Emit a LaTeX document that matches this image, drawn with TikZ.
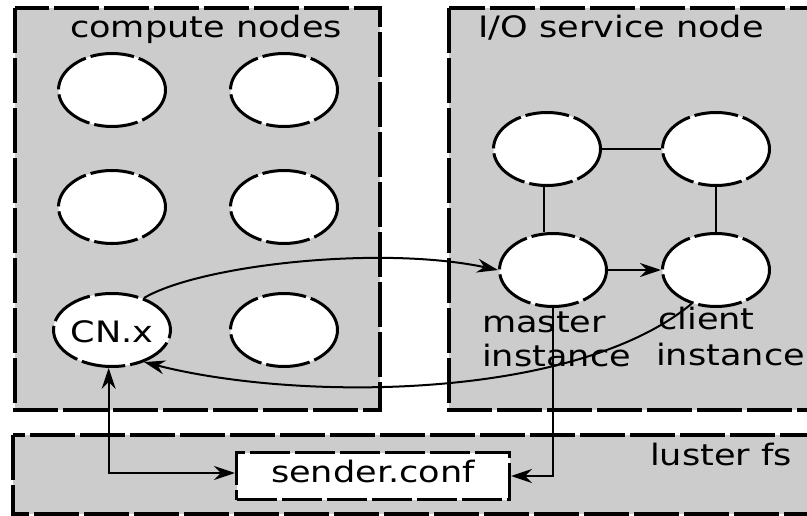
\documentclass[tikz,border=0pt]{standalone}
\usepackage{fontspec}
\setmainfont[FakeStretch=1.19]{DejaVu Sans}
\usetikzlibrary{shapes.geometric,arrows.meta,calc}
\newcommand{\diagfont}{\fontsize{29.5pt}{35pt}\selectfont}

\begin{document}
\begin{tikzpicture}[x=1pt,y=-1pt,
  container/.style={fill=black!20, draw=black, line width=3.4pt, dash pattern=on 45pt off 5pt},
  proc/.style={ellipse, draw=black, fill=white, line width=3pt, dash pattern=on 44pt off 5pt,
    minimum width=107pt, minimum height=73pt, inner sep=0pt, font=\diagfont,
    text height=24pt, text depth=0pt},
  filebox/.style={rectangle, draw=black, fill=white, line width=3pt, dash pattern=on 40pt off 5pt,
    minimum width=273pt, minimum height=47pt, text height=18pt, text depth=6pt,
    inner sep=0pt, font=\diagfont},
  lbl/.style={font=\diagfont, inner sep=0pt},
  link/.style={line width=2pt},
  flow/.style={line width=2pt, -{Stealth[length=21pt,width=14pt,inset=7pt]}},
  biflow/.style={line width=2pt, {Stealth[length=21pt,width=14pt,inset=7pt]}-{Stealth[length=21pt,width=14pt,inset=7pt]}},
]
\useasboundingbox (0,0) rectangle (807,516);
\clip (0,0) rectangle (807,516);

% containers
\draw[container] (15,8) rectangle (380,410);
\draw[container] (449,8) rectangle (840,410);
\draw[container] (13,435) rectangle (840,514);

% container titles
\node[lbl, anchor=base] (tcompute) at (206,38) {compute nodes};
\node[lbl, anchor=base] (tio) at (621,38) {I/O service node};
\node[lbl, anchor=base west] (tfs) at (650,465) {luster fs};

% compute nodes
\node[proc] (c1) at (112,90) {};
\node[proc] (c2) at (284,90) {};
\node[proc] (c3) at (112,207) {};
\node[proc] (c4) at (284,207) {};
\node[proc] (cnx) at (112,330) {CN.x};
\node[proc] (c6) at (284,330) {};

% I/O service instances
\node[proc] (io1) at (547,149) {};
\node[proc] (io2) at (716,149) {};
\node[proc] (master) at (553,270) {};
\node[proc] (client) at (716,270) {};

% instance labels
\node[lbl, anchor=base west] (lm1) at (482,332) {master};
\node[lbl, anchor=base west] (lm2) at (482,366) {instance};
\node[lbl, anchor=base west] (lc1) at (658,330) {client};
\node[lbl, anchor=base west] (lc2) at (656,365) {instance};

% configuration file
\node[filebox] (sender) at (373,476) {sender.conf};

% links between instances
\draw[link] (io1.east) -- (io2.west);
\draw[link] (io1.265) -- (io1.265 |- master.north);
\draw[link] (io2.south) -- (client.north);

% data flows
\draw[flow] (master.east) -- (client.west);
\draw[flow] (cnx.45) .. controls (200,265) and (380,245) .. (master.west);
\draw[flow] (client.234) .. controls (575,400) and (300,402) .. (cnx.-45);
\coordinate (fsin) at ($(sender.west)+(0,-3)$);
\draw[biflow] (cnx.265) -- (cnx.265 |- fsin) -- (fsin);
\draw[flow] (master.south) |- (sender.east);
\end{tikzpicture}
\end{document}
